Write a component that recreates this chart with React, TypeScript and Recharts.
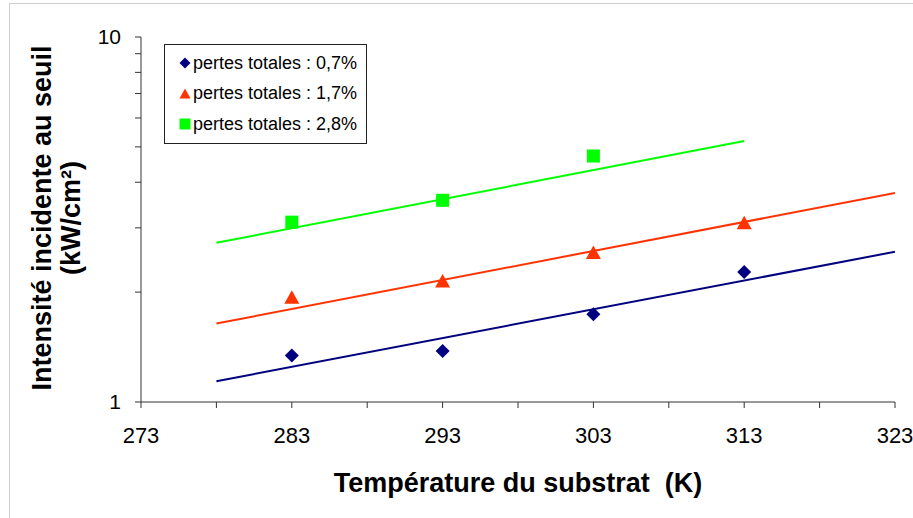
import React from 'react';
import {
  ComposedChart,
  Line,
  Scatter,
  XAxis,
  YAxis,
  Label
} from 'recharts';

// measured points
const temps = [283, 293, 303, 313];
const loss07 = [1.34, 1.38, 1.74, 2.27];
const loss17 = [1.93, 2.14, 2.56, 3.09];
const loss28 = [3.11, 3.57, 4.72];

// exponential trend lines (ends only)
const trendX07 = [278, 323];
const trendY07 = [1.14, 2.58];
const trendX17 = [278, 323];
const trendY17 = [1.64, 3.74];
const trendX28 = [278, 313];
const trendY28 = [2.73, 5.19];

const xTicks = [273, 278, 283, 288, 293, 298, 303, 308, 313, 318, 323];
const yTicks = [1, 2, 3, 4, 5, 6, 7, 8, 9, 10];
const seriesNames = ['pertes totales : 0,7%', 'pertes totales : 1,7%', 'pertes totales : 2,8%'];

const BLUE = '#000080';
const RED = '#FF3300';
const GREEN = '#00FF00';
const FONT = '"Liberation Sans", Arial, sans-serif';

const toPoints = (xs: number[], ys: number[]) => xs.map((x, i) => ({ x, y: ys[i] }));

const pts07 = toPoints(temps, loss07);
const pts17 = toPoints(temps, loss17);
const pts28 = toPoints(temps.slice(0, loss28.length), loss28);

const Diamond = ({ cx, cy, r = 7 }: any) => (
  <polygon points={`${cx},${cy - r} ${cx + r},${cy} ${cx},${cy + r} ${cx - r},${cy}`} fill={BLUE} />
);
const Triangle = ({ cx, cy, r = 7.5 }: any) => (
  <polygon points={`${cx},${cy - r} ${cx + r},${cy + r * 0.8} ${cx - r},${cy + r * 0.8}`} fill={RED} />
);
const Square = ({ cx, cy, r = 6.5 }: any) => (
  <rect x={cx - r} y={cy - r} width={2 * r} height={2 * r} fill={GREEN} />
);

const legendShapes = [Diamond, Triangle, Square];

const LegendBox = () => (
  <div
    style={{
      position: 'fixed',
      left: 164,
      top: 44,
      width: 201,
      height: 98,
      border: '1px solid #222',
      background: '#fff',
      fontFamily: FONT,
      fontSize: 18,
      color: '#000'
    }}
  >
    {seriesNames.map((label, i) => {
      const Shape = legendShapes[i];
      return (
        <div
          key={label}
          style={{ position: 'absolute', left: 0, top: 18 + i * 30.5 - 11, height: 22, display: 'flex', alignItems: 'center', whiteSpace: 'nowrap' }}
        >
          <svg width={28} height={22} style={{ display: 'block' }}>
            <Shape cx={20} cy={11} r={5.5} />
          </svg>
          <span>{label}</span>
        </div>
      );
    })}
  </div>
);

const YTitle = () => {
  const cy = 218;
  return (
    <g fontFamily={FONT} fontWeight="bold" fontSize={27} fill="#000">
      <text x={51} y={cy} transform={`rotate(-90, 51, ${cy})`} textAnchor="middle">
        Intensité incidente au seuil
      </text>
      <text x={80} y={cy} transform={`rotate(-90, 80, ${cy})`} textAnchor="middle">
        (kW/cm²)
      </text>
    </g>
  );
};

export default function App() {
  return (
    <div>
      <div
        style={{
          position: 'fixed',
          left: 9,
          top: 3,
          right: -10,
          bottom: -10,
          border: '1px solid #cfcfcf',
          background: '#fff'
        }}
      />
      <div style={{ position: 'fixed', left: 0, top: 0 }}>
        <ComposedChart
          width={913}
          height={518}
          margin={{ top: 37, right: 18, left: 0, bottom: 0 }}
          style={{ fontFamily: FONT }}
        >
          <XAxis
            xAxisId="b"
            type="number"
            dataKey="x"
            domain={[273, 323]}
            ticks={xTicks}
            tickFormatter={(v: number) => ((v - 273) % 10 === 0 ? String(v) : '')}
            interval={0}
            allowDataOverflow
            height={116}
            tickSize={6}
            tickMargin={19}
            axisLine={{ stroke: '#333' }}
            tickLine={{ stroke: '#333' }}
            tick={{ fill: '#000', fontSize: 22 }}
          >
            <Label
              value={'Température du substrat\u00a0 (K)'}
              position="insideBottom"
              offset={26}
              style={{ fontSize: 27, fontWeight: 'bold', fill: '#000' }}
            />
          </XAxis>
          <XAxis
            xAxisId="t"
            orientation="top"
            type="number"
            dataKey="x"
            domain={[273, 323]}
            height={0}
            tick={false}
            tickLine={false}
            axisLine={{ stroke: '#999' }}
          />
          <YAxis
            yAxisId="l"
            type="number"
            scale="log"
            domain={[1, 10]}
            ticks={yTicks}
            interval={0}
            allowDataOverflow
            tickFormatter={(v: number) => (v === 1 || v === 10 ? String(v) : '')}
            width={141}
            tickSize={6}
            tickMargin={14}
            axisLine={{ stroke: '#333' }}
            tickLine={{ stroke: '#333' }}
            tick={{ fill: '#000', fontSize: 21 }}
          >
            <Label content={<YTitle />} />
          </YAxis>
          <YAxis
            yAxisId="r"
            orientation="right"
            type="number"
            scale="log"
            domain={[1, 10]}
            width={0}
            tick={false}
            tickLine={false}
            axisLine={{ stroke: '#999' }}
          />
          <Line xAxisId="b" yAxisId="l" name={seriesNames[0]} data={toPoints(trendX07, trendY07)} dataKey="y" stroke={BLUE} strokeWidth={2} dot={false} isAnimationActive={false} />
          <Line xAxisId="b" yAxisId="l" name={seriesNames[1]} data={toPoints(trendX17, trendY17)} dataKey="y" stroke={RED} strokeWidth={2} dot={false} isAnimationActive={false} />
          <Line xAxisId="b" yAxisId="l" name={seriesNames[2]} data={toPoints(trendX28, trendY28)} dataKey="y" stroke={GREEN} strokeWidth={2} dot={false} isAnimationActive={false} />
          <Scatter xAxisId="b" yAxisId="l" data={pts07} dataKey="y" shape={<Diamond />} isAnimationActive={false} />
          <Scatter xAxisId="b" yAxisId="l" data={pts17} dataKey="y" shape={<Triangle />} isAnimationActive={false} />
          <Scatter xAxisId="b" yAxisId="l" data={pts28} dataKey="y" shape={<Square />} isAnimationActive={false} />
        </ComposedChart>
      </div>
      <LegendBox />
    </div>
  );
}
